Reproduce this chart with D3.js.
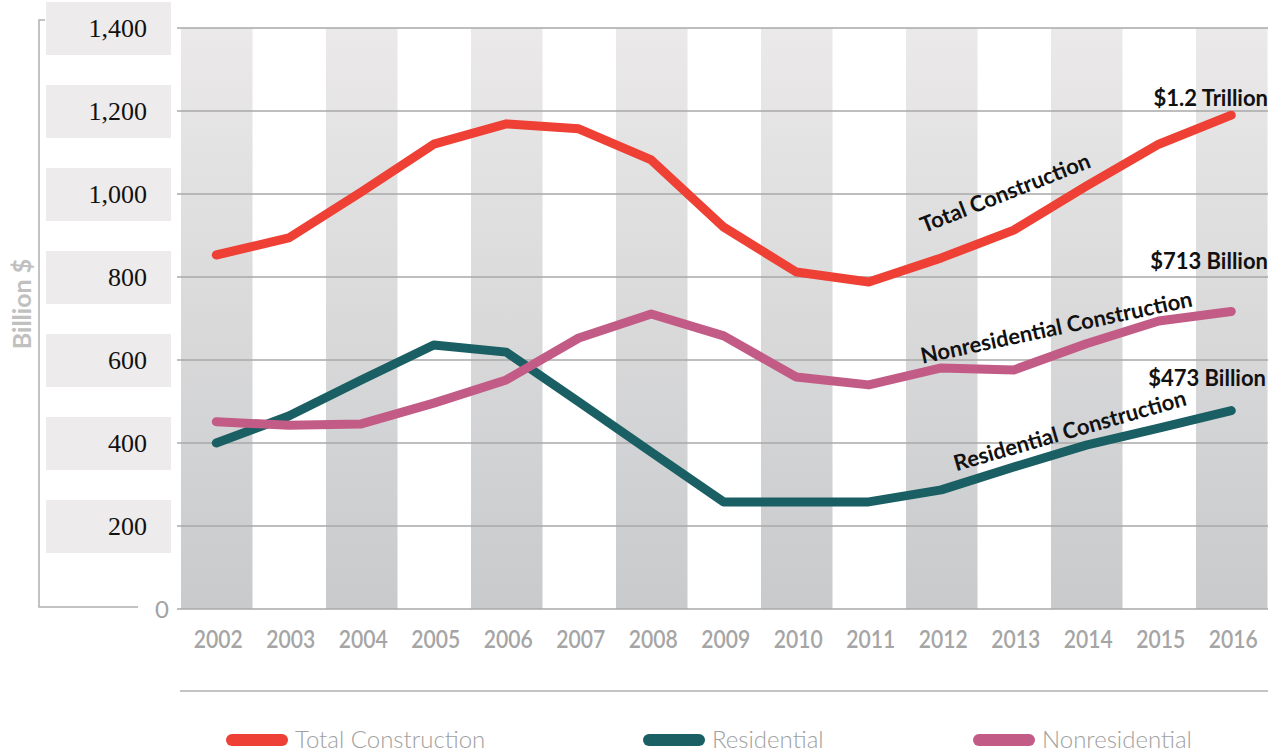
<!DOCTYPE html>
<html>
<head>
<meta charset="utf-8">
<script src="https://cdn.jsdelivr.net/npm/d3@7"></script>
<style>
  body { margin: 0; background: #fff; }
  svg { display: block; }
</style>
</head>
<body>
<svg id="chart" width="1272" height="754"></svg>
<script>
// data (billion $)
var years = ["2002", "2003", "2004", "2005", "2006", "2007", "2008", "2009",
  "2010", "2011", "2012", "2013", "2014", "2015", "2016"];
var totalValues = [853, 894, 1005, 1120, 1169, 1157, 1082, 920, 812, 788, 846, 913, 1019, 1120, 1190];
var residentialValues = [400, 465, 552, 636, 619, 499, 378, 258, 258, 258, 287, 342, 395, 436, 478];
var nonresidentialValues = [451, 443, 446, 496, 552, 653, 711, 658, 559, 540, 581, 576, 639, 694, 717];
var yTicks = [200, 400, 600, 800, 1000, 1200, 1400];
var gridTicks = [0, 200, 400, 600, 800, 1000, 1200, 1400];

var series = [
  { name: "Total Construction", values: totalValues, color: "#ee4034" },
  { name: "Residential", values: residentialValues, color: "#1a5f63" },
  { name: "Nonresidential", values: nonresidentialValues, color: "#c25b85" }
];

var svg = d3.select("#chart");

var x = d3.scaleBand().domain(years).range([180, 1267.5]).padding(0);
var y = d3.scaleLinear().domain([0, 1400]).range([609, 28]);
var cx = function(d) { return x(d) + x.bandwidth() / 2; };

var defs = svg.append("defs");
var grad = defs.append("linearGradient")
  .attr("id", "band")
  .attr("x1", 0).attr("y1", 0).attr("x2", 0).attr("y2", 1);
grad.append("stop").attr("offset", "0%").attr("stop-color", "#ebe9e9");
grad.append("stop").attr("offset", "100%").attr("stop-color", "#c8cacc");

// alternate column bands
svg.append("g")
  .selectAll("rect")
  .data(years.filter(function(d, i) { return i % 2 === 0; }))
  .enter()
  .append("rect")
  .attr("x", function(d) { return x(d) + 1; })
  .attr("y", y(1400))
  .attr("width", x.bandwidth() - 1)
  .attr("height", y(0) - y(1400))
  .attr("fill", "url(#band)");

// gridlines
svg.append("g")
  .selectAll("line")
  .data(gridTicks)
  .enter()
  .append("line")
  .attr("x1", 177)
  .attr("x2", 1268)
  .attr("y1", function(d) { return y(d); })
  .attr("y2", function(d) { return y(d); })
  .attr("stroke", "#a9a9a9")
  .attr("stroke-width", 1.3);

// y axis bracket
svg.append("path")
  .attr("d", "M45," + (y(1400) - 8) + "H39V" + (y(0) - 2) + "H138")
  .attr("fill", "none")
  .attr("stroke", "#b0b0b0")
  .attr("stroke-width", 1.5);

// y tick labels in grey boxes
var tick = svg.append("g")
  .selectAll("g")
  .data(yTicks)
  .enter()
  .append("g")
  .attr("transform", function(d) { return "translate(0," + y(d) + ")"; });

tick.append("rect")
  .attr("x", 46)
  .attr("y", -26)
  .attr("width", 125)
  .attr("height", 53)
  .attr("fill", "#edebeb");

tick.append("text")
  .attr("x", 147)
  .attr("y", 9)
  .attr("text-anchor", "end")
  .attr("font-family", "Liberation Serif, serif")
  .attr("font-size", 26)
  .attr("fill", "#111")
  .text(function(d) { return d3.format(",")(d); });

svg.append("text")
  .attr("x", 162)
  .attr("y", y(0) + 9)
  .attr("text-anchor", "middle")
  .attr("font-family", "Lato, sans-serif")
  .attr("font-size", 24)
  .attr("fill", "#a3a3a3")
  .text("0");

svg.append("text")
  .attr("transform", "translate(31,304) rotate(-90)")
  .attr("text-anchor", "middle")
  .attr("font-family", "Lato, sans-serif")
  .attr("font-weight", "bold")
  .attr("font-size", 25)
  .attr("fill", "#c0c0c0")
  .text("Billion $");

// x labels
svg.append("g")
  .selectAll("text")
  .data(years)
  .enter()
  .append("text")
  .attr("x", function(d) { return cx(d) + 2; })
  .attr("y", 648)
  .attr("text-anchor", "middle")
  .attr("font-family", "Lato, sans-serif")
  .attr("font-weight", 600)
  .attr("font-size", 25)
  .attr("textLength", 49)
  .attr("lengthAdjust", "spacingAndGlyphs")
  .attr("fill", "#a5a5a5")
  .text(function(d) { return d; });

svg.append("line")
  .attr("x1", 180).attr("x2", 1268)
  .attr("y1", 691).attr("y2", 691)
  .attr("stroke", "#b0b0b0")
  .attr("stroke-width", 1.5);

// lines
var line = d3.line()
  .x(function(d, i) { return cx(years[i]); })
  .y(function(d) { return y(d); });

svg.append("g")
  .selectAll("path")
  .data(series)
  .enter()
  .append("path")
  .attr("d", function(d) { return line(d.values); })
  .attr("fill", "none")
  .attr("stroke", function(d) { return d.color; })
  .attr("stroke-width", 9)
  .attr("stroke-linecap", "round")
  .attr("stroke-linejoin", "round");

// annotations
var notes = [
  { text: "$1.2 Trillion", x: 1268, y: 106, rot: 0, anchor: "end" },
  { text: "$713 Billion", x: 1268, y: 269, rot: 0, anchor: "end" },
  { text: "$473 Billion", x: 1266, y: 386, rot: 0, anchor: "end" },
  { text: "Total Construction", x: 1008, y: 200, rot: -21.5, anchor: "middle" },
  { text: "Nonresidential Construction", x: 1058, y: 335, rot: -12, anchor: "middle" },
  { text: "Residential Construction", x: 1072, y: 438, rot: -16, anchor: "middle" }
];

svg.append("g")
  .selectAll("text")
  .data(notes)
  .enter()
  .append("text")
  .attr("transform", function(d) {
    return "translate(" + d.x + "," + d.y + ") rotate(" + d.rot + ")";
  })
  .attr("text-anchor", function(d) { return d.anchor; })
  .attr("font-family", "Lato, sans-serif")
  .attr("font-weight", "bold")
  .attr("font-size", 22)
  .attr("fill", "#111")
  .text(function(d) { return d.text; });

// legend
var legendX = [228, 645, 975];
var legend = svg.append("g")
  .selectAll("g")
  .data(series)
  .enter()
  .append("g")
  .attr("transform", function(d, i) { return "translate(" + legendX[i] + ",740)"; });

legend.append("line")
  .attr("x1", 4).attr("x2", 54)
  .attr("y1", 0).attr("y2", 0)
  .attr("stroke", function(d) { return d.color; })
  .attr("stroke-width", 12)
  .attr("stroke-linecap", "round");

legend.append("text")
  .attr("x", 67)
  .attr("y", 8)
  .attr("font-family", "Lato, sans-serif")
  .attr("font-size", 24)
  .attr("font-weight", 300)
  .attr("fill", "#a0a0a0")
  .text(function(d) { return d.name; });
</script>
</body>
</html>
